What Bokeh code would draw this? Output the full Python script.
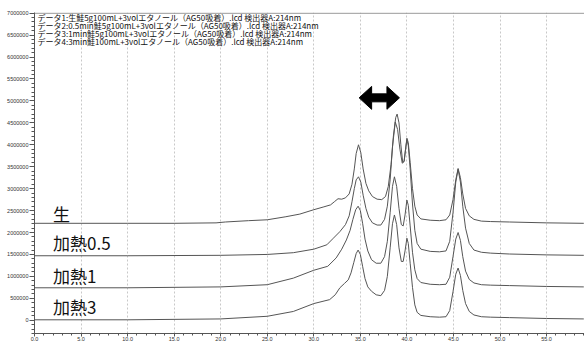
from bokeh.plotting import figure
from bokeh.models import (Range1d, SingleIntervalTicker, PrintfTickFormatter,
                          NumeralTickFormatter, Label, Span)
from bokeh.embed import file_html
from bokeh.resources import INLINE

M = 1_000_000  # values below are in millions of uV

# ---- data (time in min, signal in millions of uV) ----
t_raw = [0, 5, 10, 15, 19.5, 20.5, 23, 25, 27, 28.5, 30, 31, 31.8, 32.2, 32.6, 33.0, 33.4,
         33.8, 34.1, 34.35, 34.55, 34.8, 35.05, 35.3, 35.6, 35.9, 36.3, 36.8, 37.3,
         37.7, 38.0, 38.3, 38.55, 38.8, 38.95, 39.15, 39.35, 39.55, 39.7, 39.85, 40.0,
         40.15, 40.35, 40.6, 40.85, 41.1, 41.5, 42.5, 43.5, 44.2, 44.6, 44.95, 45.25,
         45.5, 45.75, 46.0, 46.3, 46.7, 47.2, 48.0, 49.0, 51, 55, 59]
v_raw = [2.21, 2.21, 2.21, 2.21, 2.22, 2.24, 2.27, 2.29, 2.36, 2.42, 2.52, 2.58, 2.63, 2.70,
         2.77, 2.76, 2.79, 2.88, 3.10, 3.45, 3.80, 4.00, 3.82, 3.45, 3.12, 2.95, 2.82,
         2.76, 2.75, 2.82, 3.05, 3.55, 4.20, 4.62, 4.70, 4.50, 4.00, 3.60, 3.62, 3.90,
         4.15, 4.05, 3.60, 3.00, 2.60, 2.40, 2.31, 2.28, 2.27, 2.29, 2.40, 2.75, 3.20,
         3.46, 3.25, 2.88, 2.55, 2.38, 2.30, 2.26, 2.25, 2.24, 2.22, 2.21]

t_h05 = [0, 10, 20, 25, 27.8, 30, 31.4, 32.1, 32.8, 33.4, 33.8, 34.1, 34.35, 34.55, 34.8,
         35.05, 35.3, 35.6, 35.9, 36.3, 36.8, 37.2, 37.6, 37.9, 38.2, 38.45, 38.75, 39.0,
         39.25, 39.5, 39.7, 39.85, 40.0, 40.15, 40.35, 40.6, 40.85, 41.1, 41.5, 42.5, 43.5,
         44.2, 44.6, 44.95, 45.25, 45.5, 45.75, 46.0, 46.3, 46.7, 47.2, 48, 49, 51, 55, 59]
v_h05 = [1.47, 1.47, 1.48, 1.50, 1.54, 1.62, 1.72, 1.87, 2.02, 2.18, 2.38, 2.70, 3.00, 3.20,
         3.27, 3.15, 2.85, 2.55, 2.35, 2.22, 2.17, 2.17, 2.30, 2.60, 3.20, 3.95, 4.52, 4.35,
         3.90, 3.58, 3.62, 3.88, 4.12, 3.98, 3.45, 2.65, 2.05, 1.75, 1.62, 1.57, 1.56,
         1.58, 1.80, 2.45, 3.15, 3.44, 3.15, 2.60, 2.10, 1.75, 1.60, 1.55, 1.53, 1.51, 1.49, 1.48]

t_h1 = [0, 10, 20, 25, 27.8, 30, 31.5, 32.4, 33.0, 33.5, 33.9, 34.2, 34.5, 34.76, 35.0,
        35.25, 35.5, 35.8, 36.2, 36.7, 37.2, 37.6, 37.9, 38.2, 38.45, 38.66, 38.9, 39.15,
        39.4, 39.6, 39.8, 40.0, 40.15, 40.35, 40.6, 40.85, 41.1, 41.5, 42.5, 43.5, 44.2,
        44.6, 44.95, 45.25, 45.5, 45.75, 46.0, 46.3, 46.7, 47.2, 48, 49, 51, 55, 59]
v_h1 = [0.74, 0.74, 0.76, 0.81, 0.96, 1.14, 1.23, 1.42, 1.62, 1.83, 2.05, 2.30, 2.52, 2.60,
        2.50, 2.20, 1.85, 1.58, 1.38, 1.30, 1.30, 1.45, 1.80, 2.45, 3.05, 3.27, 3.05, 2.55,
        2.18, 2.15, 2.40, 2.74, 2.62, 2.15, 1.55, 1.15, 0.95, 0.86, 0.82, 0.81, 0.82,
        0.98, 1.45, 1.85, 2.00, 1.82, 1.45, 1.12, 0.93, 0.85, 0.81, 0.80, 0.79, 0.77, 0.76]

t_h3 = [0, 10, 20, 25, 27.8, 30, 31.7, 32.3, 32.8, 33.3, 33.7, 34.0, 34.3, 34.55, 34.76,
        35.0, 35.25, 35.5, 35.8, 36.2, 36.7, 37.2, 37.6, 37.9, 38.2, 38.45, 38.66, 38.9,
        39.15, 39.4, 39.6, 39.8, 40.0, 40.15, 40.35, 40.6, 40.85, 41.1, 41.5, 42.5, 43.5,
        44.2, 44.6, 44.95, 45.25, 45.5, 45.75, 46.0, 46.3, 46.7, 47.2, 48, 49, 51, 55, 59]
v_h3 = [0.01, 0.01, 0.03, 0.09, 0.20, 0.38, 0.47, 0.58, 0.74, 0.84, 0.92, 1.08, 1.32, 1.52,
        1.60, 1.50, 1.22, 0.95, 0.76, 0.66, 0.58, 0.56, 0.68, 1.00, 1.65, 2.20, 2.40, 2.18,
        1.65, 1.34, 1.34, 1.58, 1.87, 1.75, 1.30, 0.75, 0.35, 0.18, 0.11, 0.08, 0.07,
        0.08, 0.22, 0.65, 1.05, 1.19, 1.02, 0.68, 0.38, 0.20, 0.12, 0.08, 0.07, 0.06, 0.04, 0.03]

series = [(t_raw, v_raw), (t_h05, v_h05), (t_h1, v_h1), (t_h3, v_h3)]

trace_names = ["生", "加熱0.5", "加熱1", "加熱3"]
name_y = [2.44, 1.77, 1.02, 0.31]   # label heights (millions)

header_lines = [
    "データ1:生鮭5g100mL+3volエタノール（AG50吸着）.lcd 検出器A:214nm",
    "データ2:0.5min鮭5g100mL+3volエタノール（AG50吸着）.lcd 検出器A:214nm",
    "データ3:1min鮭5g100mL+3volエタノール（AG50吸着）.lcd 検出器A:214nm",
    "データ4:3min鮭100mL+3volエタノール（AG50吸着）.lcd 検出器A:214nm",
]

arrow_t = (34.87, 39.2)     # double arrow span (min)
arrow_v = 5.07              # arrow height (millions)

# ---- geometry ----
PX_PER_MIN = 9.31
PX_PER_M = 44.0
W, H = 584, 343
BL, BR, BT, BB = 34, 0, 12, 9
y_top = 7.0 + 0.7 / PX_PER_M
y_bot = y_top - (H - BT - BB) / PX_PER_M
x_end = (W - BL - BR) / PX_PER_MIN

p = figure(width=W, height=H, output_backend="svg", toolbar_location=None,
           x_range=Range1d(0, x_end), y_range=Range1d(y_bot * M, y_top * M),
           min_border_left=BL, min_border_right=BR, min_border_top=BT, min_border_bottom=BB)
p.outline_line_color = None
p.background_fill_color = "white"
p.border_fill_color = "white"

# axes
p.xaxis.ticker = SingleIntervalTicker(interval=5, num_minor_ticks=5)
p.xaxis.formatter = PrintfTickFormatter(format="%.1f")
p.yaxis.ticker = SingleIntervalTicker(interval=500000, num_minor_ticks=5)
p.yaxis.formatter = NumeralTickFormatter(format="0")
for ax in (p.xaxis[0], p.yaxis[0]):
    ax.major_label_text_font_size = "5.5px"
    ax.major_label_text_font = "Liberation Sans"
    ax.major_label_text_color = "#333333"
    ax.axis_line_color = "#555555"
    ax.major_tick_line_color = "#555555"
    ax.minor_tick_line_color = "#555555"
    ax.major_tick_in = 0
    ax.minor_tick_in = 0
p.yaxis.major_label_standoff = 1
p.xaxis.major_label_standoff = 0
p.yaxis.major_tick_out = 5
p.yaxis.minor_tick_out = 3
p.xaxis.major_tick_out = 3
p.xaxis.minor_tick_out = 2

p.ygrid.grid_line_color = None
p.xgrid.grid_line_color = "#c8c8c8"
p.xgrid.grid_line_dash = "2 2"
p.xgrid.grid_line_width = 1

# top border line at 7,000,000
p.add_layout(Span(location=7 * M, dimension="width", line_color="#888888", line_width=1))

# traces
for ts, vs in series:
    p.line(ts, [v * M for v in vs], line_color="#555555", line_width=1)

# sample labels
for name, ny in zip(trace_names, name_y):
    p.add_layout(Label(x=2.0, y=ny * M, text=name, text_font="Noto Sans CJK JP",
                       text_font_size="17px", text_baseline="middle", text_color="#111111"))

# header lines
for i, line in enumerate(header_lines):
    p.add_layout(Label(x=0.32, y=(6.90 - 0.18 * i) * M, text=line, text_font="Noto Sans CJK JP",
                       text_font_size="8px", text_baseline="middle", text_color="#111111"))

p.add_layout(Label(x=0.0, y=7.0 * M, text="uV", text_font="Liberation Sans",
                   text_font_size="5px", text_baseline="bottom", text_color="#333333"))

# double arrow
a0, a1 = arrow_t
hl = 12.5 / PX_PER_MIN
hh = 11.5 / PX_PER_M
bh = 4.0 / PX_PER_M
xs = [a0, a0 + hl, a0 + hl, a1 - hl, a1 - hl, a1, a1 - hl, a1 - hl, a0 + hl, a0 + hl]
ys = [arrow_v, arrow_v + hh, arrow_v + bh, arrow_v + bh, arrow_v + hh, arrow_v,
      arrow_v - hh, arrow_v - bh, arrow_v - bh, arrow_v - hh]
p.patch(xs, [y * M for y in ys], fill_color="black", line_color="black", line_width=1,
        line_join="round")

open("out.html", "w").write(file_html(p, INLINE))
